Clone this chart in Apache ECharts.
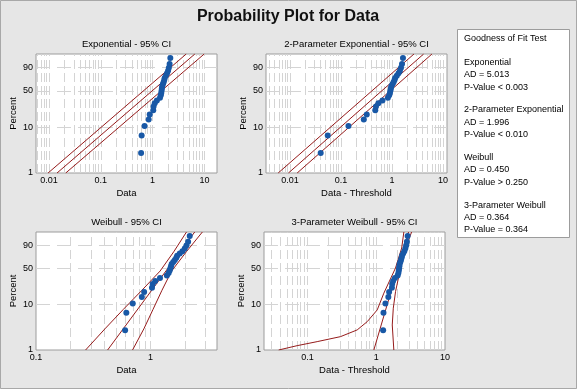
<!DOCTYPE html>
<html><head><meta charset="utf-8">
<script src="https://cdn.jsdelivr.net/npm/echarts@6/dist/echarts.min.js"></script>
<style>html,body{margin:0;padding:0;background:#e6e6e6}#c{width:577px;height:389px}</style>
</head><body><div id="c"></div>
<script>
// ---- data ----
const percentRanks = [2.77, 6.72, 10.67, 14.62, 18.58, 22.53, 26.48, 30.43, 34.39, 38.34, 42.29, 46.25, 50.20, 54.15, 58.10, 62.06, 66.01, 69.96, 73.91, 77.87, 81.82, 85.77, 89.72, 93.68, 97.63];
const dataValues = [0.60, 0.615, 0.70, 0.84, 0.88, 1.03, 1.045, 1.10, 1.21, 1.39, 1.44, 1.47, 1.49, 1.51, 1.53, 1.58, 1.63, 1.68, 1.71, 1.80, 1.90, 1.99, 2.06, 2.13, 2.20];
const threshold2P = 0.56;   // 2-parameter exponential threshold
const threshold3P = -0.66;  // 3-parameter Weibull threshold

// lines: [x, percent]
const expUpper = [[0.00962, 1], [4.457, 99]];
const expFit = [[0.01432, 1], [6.531, 99]];
const expLower = [[0.02109, 1], [9.908, 99]];
const exp2Upper = [[0.005875, 1], [2.695, 99]];
const exp2Fit = [[0.00933, 1], [4.169, 99]];
const exp2Lower = [[0.01384, 1], [6.067, 99]];
const weiUpper = [[0.271, 1], [0.400, 2.97], [0.577, 7.88], [0.841, 20], [1.213, 45.5], [1.596, 80.8], [2.061, 99]];
const weiFit = [[0.422, 1], [2.432, 99]];
const weiLower = [[0.697, 1], [0.875, 2.97], [1.050, 7.88], [1.259, 20], [1.528, 45.5], [2.056, 80.8], [2.838, 99]];
const wei3Upper = [[0.0381, 1], [0.0706, 1.25], [0.1384, 1.54], [0.302, 1.99], [0.528, 2.81], [0.740, 4.29], [1.034, 7.74], [1.291, 17.5], [1.905, 50.7], [2.344, 86.5], [2.523, 99]];
const wei3Fit = [[0.923, 1], [2.951, 99]];
const wei3Lower = [[1.803, 1], [1.710, 3.62], [1.770, 8.43], [1.910, 18.9], [2.259, 50.7], [2.673, 86.5], [3.266, 99]];

const yTickPercents = [1, 10, 50, 90];
const horizGridPercents = [10, 50, 90];
const gridMultipliers = [1, 2, 3, 4, 5, 6, 7, 8, 9];

const panelTitles = ['Exponential - 95% CI', '2-Parameter Exponential - 95% CI', 'Weibull - 95% CI', '3-Parameter Weibull - 95% CI'];
const xNames = ['Data', 'Data - Threshold', 'Data', 'Data - Threshold'];
const xTickDecades = [[-2, -1, 0, 1], [-2, -1, 0, 1], [-1, 0], [-1, 0, 1]];

const legendTitle = 'Goodness of Fit Test';
const legendBlocks = [
  ['Exponential', 'AD = 5.013', 'P-Value < 0.003'],
  ['2-Parameter Exponential', 'AD = 1.996', 'P-Value < 0.010'],
  ['Weibull', 'AD = 0.450', 'P-Value > 0.250'],
  ['3-Parameter Weibull', 'AD = 0.364', 'P-Value = 0.364']
];
const mainTitle = 'Probability Plot for Data';

// ---- scales ----
const toV = p => Math.log(-Math.log(1 - p / 100));
const lg = x => Math.log10(x);
const FONT = '"Liberation Sans", Arial, sans-serif';
const LINE = '#951b1b';
const PT = '#1858a6';

const panels = [
  {grid: {left: 36, top: 54, width: 181, height: 119}, xr: [-2.25, 1.243], thr: 0, lines: [expUpper, expFit, expLower]},
  {grid: {left: 266, top: 54, width: 181, height: 119}, xr: [-2.47, 1.078], thr: threshold2P, lines: [exp2Upper, exp2Fit, exp2Lower]},
  {grid: {left: 36, top: 232, width: 181, height: 118}, xr: [-1, 0.5806], thr: 0, lines: [weiUpper, weiFit, weiLower]},
  {grid: {left: 264, top: 232, width: 181, height: 118}, xr: [-1.632, 1.0], thr: threshold3P, lines: [wei3Upper, wei3Fit, wei3Lower]}
];

const yMin = toV(1), yMax = toV(99);
const fmtX = v => String(parseFloat(Math.pow(10, v).toPrecision(3)));
const fmtY = v => String(Math.round(100 * (1 - Math.exp(-Math.exp(v)))));

const grids = [], xAxes = [], yAxes = [], series = [], graphics = [];
panels.forEach((p, i) => {
  grids.push(Object.assign({show: true, backgroundColor: '#ffffff', borderColor: '#9c9c9c', borderWidth: 1}, p.grid));
  xAxes.push({
    type: 'value', gridIndex: i, min: p.xr[0], max: p.xr[1],
    axisLine: {show: false}, axisTick: {show: false}, splitLine: {show: false},
    axisLabel: {customValues: xTickDecades[i], formatter: fmtX, fontSize: 9, color: '#000', margin: 3, fontFamily: FONT},
    name: xNames[i], nameLocation: 'middle', nameGap: 15,
    nameTextStyle: {fontSize: 9.5, color: '#000', fontFamily: FONT}
  });
  yAxes.push({
    type: 'value', gridIndex: i, min: yMin, max: yMax,
    axisLine: {show: false}, axisTick: {show: false}, splitLine: {show: false},
    axisLabel: {customValues: yTickPercents.map(toV), formatter: fmtY, fontSize: 9, color: '#000', margin: 3, fontFamily: FONT},
    name: 'Percent', nameLocation: 'middle', nameGap: 18,
    nameTextStyle: {fontSize: 9.5, color: '#000', fontFamily: FONT}
  });
  // grid lines
  const vLines = [];
  for (let d = Math.floor(p.xr[0]); d <= Math.ceil(p.xr[1]); d++) {
    gridMultipliers.forEach(k => {
      const lv = d + lg(k);
      if (lv > p.xr[0] + 0.01 && lv < p.xr[1] - 0.01) vLines.push({xAxis: lv});
    });
  }
  series.push({
    type: 'line', xAxisIndex: i, yAxisIndex: i, data: [], z: 1, silent: true,
    markLine: {z: 1, silent: true, symbol: ['none', 'none'], label: {show: false}, animation: false,
      lineStyle: {color: '#d4d4d4', width: 1, type: [9, 4]}, emphasis: {disabled: true},
      data: vLines.concat(horizGridPercents.map(hp => ({yAxis: toV(hp), lineStyle: {type: [14, 7], color: '#d4d4d4'}})))}
  });
  p.lines.forEach(ln => {
    series.push({
      type: 'line', xAxisIndex: i, yAxisIndex: i, z: 3, silent: true, showSymbol: false, symbol: 'none',
      clip: true, lineStyle: {color: LINE, width: 1}, animation: false,
      data: ln.map(([x, pc]) => [lg(x), toV(pc)])
    });
  });
  series.push({
    type: 'scatter', xAxisIndex: i, yAxisIndex: i, z: 4, symbol: 'circle', symbolSize: 6,
    itemStyle: {color: PT, opacity: 1, borderWidth: 0}, animation: false,
    data: dataValues.map((d, j) => [lg(d - p.thr), toV(percentRanks[j])])
  });
  graphics.push({type: 'text', x: p.grid.left + p.grid.width / 2, y: p.grid.top - 10,
    style: {text: panelTitles[i], fill: '#000', font: '9.5px ' + FONT, textAlign: 'center', textVerticalAlign: 'middle', verticalAlign: 'middle'}});
});

graphics.push({type: 'rect', shape: {x: 0.5, y: 0.5, width: 576, height: 388}, style: {fill: 'none', stroke: '#a8a8a8', lineWidth: 1}, z: 0});
graphics.push({type: 'text', x: 288, y: 17, style: {text: mainTitle, fill: '#111', font: 'bold 16px ' + FONT, textAlign: 'center', textVerticalAlign: 'middle', verticalAlign: 'middle'}});
graphics.push({type: 'rect', shape: {x: 457.5, y: 29.5, width: 112, height: 208}, style: {fill: '#fff', stroke: '#9c9c9c', lineWidth: 1}});
const legendX = 464;
graphics.push({type: 'text', x: legendX, y: 38.3, style: {text: legendTitle, fill: '#000', font: '9px ' + FONT, textVerticalAlign: 'middle', verticalAlign: 'middle'}});
legendBlocks.forEach((blk, b) => {
  blk.forEach((t, k) => {
    graphics.push({type: 'text', x: legendX, y: 62.3 + b * 47.6 + k * 12.4,
      style: {text: t, fill: '#000', font: '9px ' + FONT, textVerticalAlign: 'middle', verticalAlign: 'middle'}});
  });
});

const chart = echarts.init(document.getElementById('c'), null, {renderer: 'canvas'});
chart.setOption({
  backgroundColor: '#e6e6e6',
  animation: false,
  grid: grids, xAxis: xAxes, yAxis: yAxes, series: series,
  graphic: graphics
});
</script></body></html>
